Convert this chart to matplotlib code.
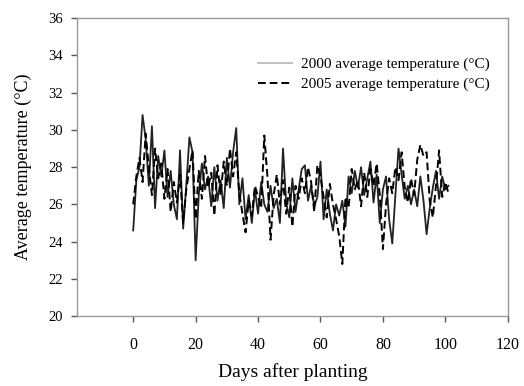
import numpy as np
import matplotlib.pyplot as plt

plt.rcParams['font.family'] = ['Liberation Serif', 'DejaVu Serif']

days = np.arange(0, 102)

# 2000 average temperature
temp_2000 = [24.6, 27.3, 28.0, 30.8, 29.5, 27.0, 30.2, 25.8, 28.6, 27.5,
             28.9, 26.4, 27.8, 26.0, 25.2, 28.9, 24.7, 27.0, 29.6, 28.8,
             23.0, 26.5, 28.2, 26.8, 27.5, 25.9, 28.0, 26.2, 27.3, 25.8,
             28.5, 26.9, 28.8, 30.1, 26.0, 27.4, 25.2, 26.5, 25.0, 26.8,
             25.5, 27.2, 26.0, 25.6, 27.0, 25.8, 26.3, 25.0, 29.0, 26.1,
             25.3, 27.4, 25.6, 26.8, 27.9, 28.1, 26.2, 27.0, 25.9, 26.4,
             28.3, 25.2, 26.8, 25.5, 24.6, 26.0, 25.4, 26.2, 24.8, 27.5,
             26.6, 27.8, 26.9, 28.0, 26.5, 27.4, 28.3, 26.1, 27.6, 25.0,
             26.8, 27.5, 25.2, 23.9, 26.5, 29.0, 27.6, 26.3, 27.0, 26.0,
             26.8, 25.9, 27.5, 26.2, 24.4, 25.8, 26.9, 27.8, 26.3, 27.5,
             26.8, 27.0]

# 2005 average temperature
temp_2005 = [26.0, 27.5, 28.5, 27.2, 29.8, 28.0, 26.5, 29.0, 27.4, 28.2,
             26.3, 27.9, 25.6, 27.2, 26.1, 27.6, 25.0, 26.8, 27.9, 28.9,
             25.2, 27.8, 26.3, 28.6, 26.9, 27.7, 25.4, 28.1, 26.5, 28.3,
             27.0, 29.0, 27.5, 28.8, 26.6, 25.5, 24.5, 26.2, 25.4, 27.0,
             26.4, 25.8, 29.7, 27.5, 24.1, 26.5, 27.6, 26.0, 27.3, 25.5,
             26.9, 24.8, 27.0, 26.3, 27.4, 26.6, 28.0, 27.2, 25.6, 28.1,
             27.5, 26.4, 25.3, 27.1, 26.0, 25.2, 24.3, 22.8, 26.4, 25.8,
             27.9, 26.8, 27.3, 25.9, 27.7, 26.4, 27.9, 27.0, 28.2, 26.5,
             23.6, 26.0, 27.4, 26.6, 28.0, 27.3, 28.8, 26.9, 26.1, 27.4,
             26.5, 28.4, 29.2, 28.6, 28.8, 26.2, 25.3, 27.0, 28.9, 26.4,
             27.2, 26.6]

fig = plt.figure(figsize=(5.24, 3.86), dpi=100)
ax = fig.add_axes([0.147, 0.181, 0.822, 0.772])

ax.plot(days, temp_2000, color='#222222', lw=1.3, label='2000 average temperature (°C)')
ax.plot(days, temp_2005, color='black', lw=1.4, ls=(0, (4, 2)), label='2005 average temperature (°C)')

ax.set_xlim(-18, 120)
ax.set_ylim(20, 36)
ax.set_xticks(np.arange(0, 121, 20))
ax.set_yticks(np.arange(20, 37, 2))

for s in ax.spines.values():
    s.set_color('#999999')
    s.set_linewidth(1.0)
ax.tick_params(direction='out', length=4, width=1, color='#555555')
ax.tick_params(axis='x', labelsize=11.5, pad=11)
ax.tick_params(axis='y', labelsize=10.5, pad=6)

ax.set_xlabel('Days after planting', fontsize=14, labelpad=7)
ax.set_ylabel('Average temperature (°C)', fontsize=13, labelpad=12)

leg = ax.legend(loc='upper right', bbox_to_anchor=(0.99, 0.915), frameon=False,
                fontsize=11, handlelength=2.2, labelspacing=0.4, handletextpad=0.6)
leg.get_lines()[0].set_color('#bbbbbb')

fig.savefig('out.png', dpi=100)
